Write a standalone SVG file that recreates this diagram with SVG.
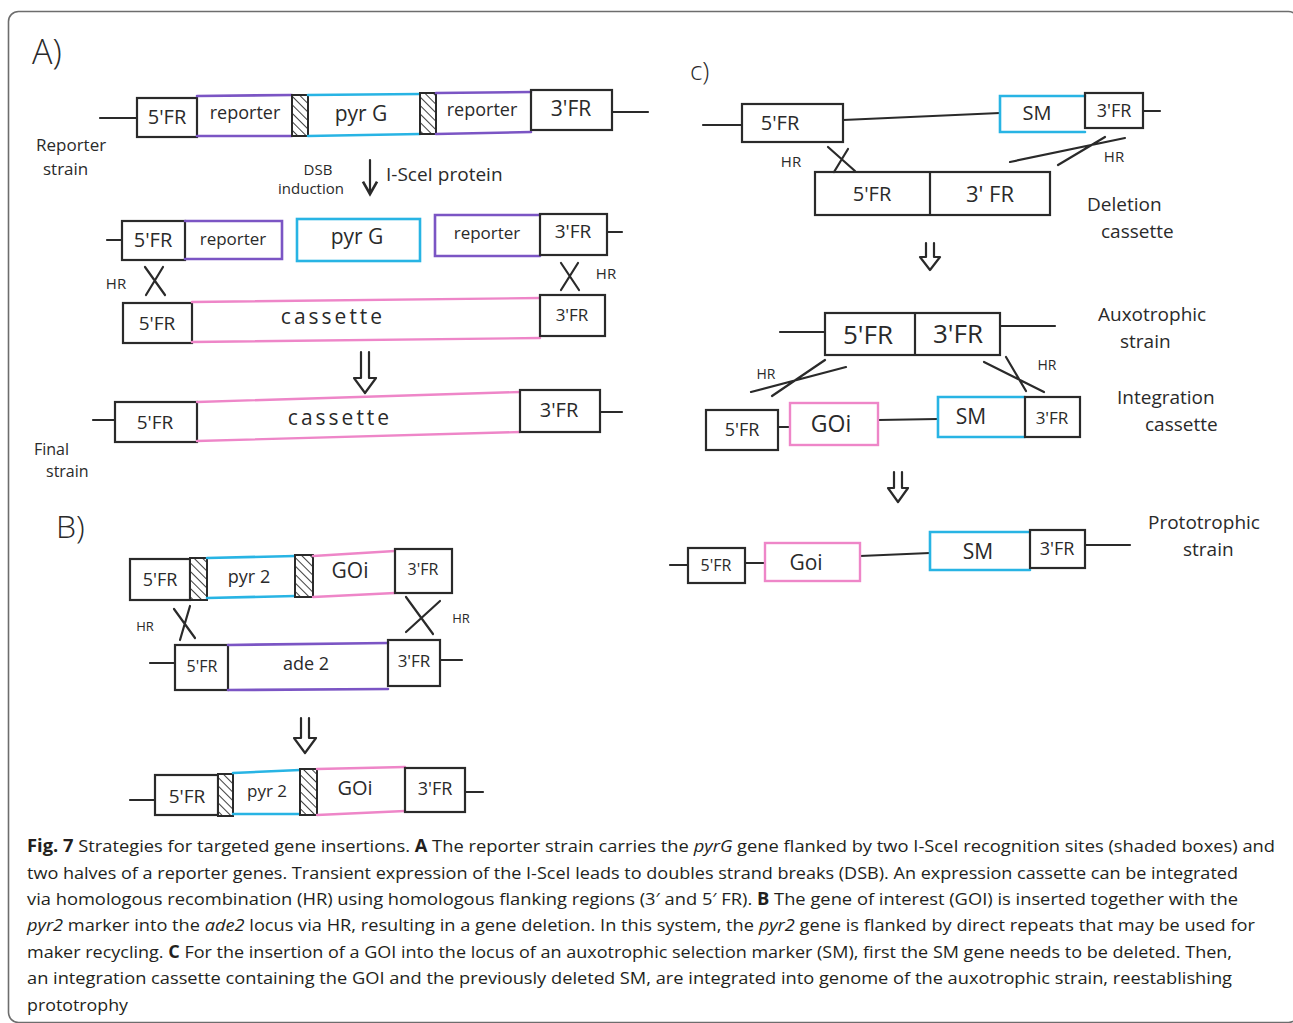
<svg xmlns="http://www.w3.org/2000/svg" width="1293" height="1023" viewBox="0 0 1293 1023">
<style>
.k{fill:none;stroke:#2a2a2a;stroke-width:2.2;stroke-linecap:round;stroke-linejoin:round}
.bx{fill:none;stroke:#2a2a2a;stroke-width:2.2}
.pu{fill:none;stroke:#7b55c4;stroke-width:2.6;stroke-linecap:round}
.cy{fill:none;stroke:#28b4e4;stroke-width:2.6;stroke-linecap:round}
.pk{fill:none;stroke:#ee86c8;stroke-width:2.4;stroke-linecap:round}
.ha{fill:url(#hatch);stroke:#2a2a2a;stroke-width:2}
.t{font-family:"Open Sans","Liberation Sans",sans-serif;fill:#2a2a2a;text-anchor:middle}
.tl{font-family:"Open Sans","Liberation Sans",sans-serif;fill:#2a2a2a}
.cap{font-family:"Open Sans","Noto Sans","Liberation Sans",sans-serif;font-size:17px;fill:#231f20}
.b{font-weight:bold}
.i{font-style:italic}
</style>
<defs>
<pattern id="hatch" patternUnits="userSpaceOnUse" width="6" height="6" patternTransform="rotate(-45)">
<rect width="6" height="6" fill="#fff"/>
<line x1="0" y1="0" x2="0" y2="6" stroke="#2a2a2a" stroke-width="1.8"/>
</pattern>
<marker id="ah" viewBox="0 0 10 10" refX="8" refY="5" markerWidth="8" markerHeight="8" orient="auto">
<path d="M1 1 L8 5 L1 9" fill="none" stroke="#2a2a2a" stroke-width="1.5"/>
</marker>
</defs>
<rect x="0" y="0" width="1293" height="1023" fill="#fff"/>
<rect x="8.5" y="11.5" width="1290" height="1011" rx="10" fill="none" stroke="#6d6d6d" stroke-width="1.6"/>

<!-- Panel A -->
<text class="tl" x="32" y="64" font-size="34" font-weight="300">A)</text>
<g id="a-row1">
<path class="k" d="M100 118 H137 M612 112 H648"/>
<rect class="bx" x="137" y="98" width="60" height="39"/>
<text class="t" x="167" y="124" font-size="20">5'FR</text>
<path class="pu" d="M197 96 L292 95 M197 136 L292 136"/>
<text class="t" x="245" y="119" font-size="18">reporter</text>
<rect class="ha" x="292" y="95" width="16" height="41"/>
<path class="cy" d="M308 95 L420 94 M308 136 L420 134"/>
<text class="t" x="361" y="121" font-size="21">pyr G</text>
<rect class="ha" x="420" y="93" width="16" height="41"/>
<path class="pu" d="M436 93 L531 92 M436 134 L531 132"/>
<text class="t" x="482" y="116" font-size="18">reporter</text>
<rect class="bx" x="531" y="90" width="81" height="40"/>
<text class="t" x="571" y="116" font-size="21">3'FR</text>
</g>
<g id="a-reporter-label">
<text class="tl" x="36" y="151" font-size="17">Reporter</text>
<text class="tl" x="43" y="175" font-size="17">strain</text>
</g>
<g id="a-dsb">
<text class="t" x="318" y="175" font-size="15">DSB</text>
<text class="t" x="311" y="194" font-size="15">induction</text>
<text class="tl" x="386" y="181" font-size="19">I-SceI protein</text>
</g>
<g id="a-row2">
<path class="k" d="M107 240 H122 M607 232 H622"/>
<rect class="bx" x="122" y="221" width="63" height="39"/>
<text class="t" x="153" y="247" font-size="20">5'FR</text>
<path class="pu" d="M185 221 H282 V259 H185"/>
<text class="t" x="233" y="245" font-size="17">reporter</text>
<rect class="cy" x="297" y="219" width="123" height="42"/>
<text class="t" x="357" y="244" font-size="21">pyr G</text>
<path class="pu" d="M540 215 H435 V256 H540"/>
<text class="t" x="487" y="239" font-size="17">reporter</text>
<rect class="bx" x="540" y="214" width="67" height="41"/>
<text class="t" x="573" y="238" font-size="19">3'FR</text>
</g>
<g id="a-hr">
<text class="t" x="116" y="289" font-size="15">HR</text>
<path class="k" d="M145 267 L165 295 M163 267 L146 295"/>
<path class="k" d="M561 263 L579 290 M578 263 L561 290"/>
<text class="t" x="606" y="279" font-size="15">HR</text>
</g>
<g id="a-row3">
<rect class="bx" x="123" y="303" width="69" height="40"/>
<text class="t" x="157" y="330" font-size="19">5'FR</text>
<path class="pk" d="M192 302 L540 298 M192 342 L540 338"/>
<text class="t" x="333" y="324" font-size="21" letter-spacing="3">cassette</text>
<rect class="bx" x="540" y="295" width="65" height="41"/>
<text class="t" x="572" y="321" font-size="17">3'FR</text>
</g>
<g id="a-row4">
<path class="k" d="M93 420 H115 M600 412 H622"/>
<rect class="bx" x="115" y="402" width="82" height="40"/>
<text class="t" x="155" y="429" font-size="19">5'FR</text>
<path class="pk" d="M197 402 L520 392 M197 441 L520 432"/>
<text class="t" x="340" y="425" font-size="21" letter-spacing="3">cassette</text>
<rect class="bx" x="520" y="390" width="80" height="42"/>
<text class="t" x="559" y="417" font-size="20">3'FR</text>
</g>
<g id="a-final-label">
<text class="tl" x="34" y="455" font-size="16">Final</text>
<text class="tl" x="46" y="477" font-size="16">strain</text>
</g>

<!-- Panel B -->
<text class="tl" x="56" y="538" font-size="32" font-weight="300">B)</text>
<g id="b-row1">
<rect class="bx" x="130" y="559" width="60" height="41"/>
<text class="t" x="160" y="586" font-size="18">5'FR</text>
<rect class="ha" x="190" y="558" width="17" height="42"/>
<path class="cy" d="M207 558 L295 556 M207 598 L295 596"/>
<text class="t" x="249" y="583" font-size="18">pyr 2</text>
<rect class="ha" x="295" y="555" width="18" height="42"/>
<path class="pk" d="M313 556 L395 551 M313 597 L395 593"/>
<text class="t" x="350" y="578" font-size="21">GOi</text>
<rect class="bx" x="395" y="549" width="57" height="44"/>
<text class="t" x="423" y="575" font-size="16">3'FR</text>
</g>
<g id="b-hr">
<text class="t" x="145" y="631" font-size="13">HR</text>
<path class="k" d="M174 609 L195 638 M190 606 L180 640"/>
<path class="k" d="M406 597 L433 634 M440 601 L406 632"/>
<text class="t" x="461" y="623" font-size="13">HR</text>
</g>
<g id="b-row2">
<path class="k" d="M150 663 H175 M440 660 H462"/>
<rect class="bx" x="175" y="645" width="53" height="45"/>
<text class="t" x="202" y="672" font-size="16">5'FR</text>
<path class="pu" d="M228 645 L388 643 M228 690 L388 689"/>
<text class="t" x="306" y="670" font-size="18">ade 2</text>
<rect class="bx" x="388" y="640" width="52" height="46"/>
<text class="t" x="414" y="667" font-size="17">3'FR</text>
</g>
<g id="b-row3">
<path class="k" d="M130 800 H155 M465 792 H483"/>
<rect class="bx" x="155" y="775" width="63" height="40"/>
<text class="t" x="187" y="803" font-size="19">5'FR</text>
<rect class="ha" x="218" y="774" width="15" height="42"/>
<path class="cy" d="M233 773 L300 770 M233 814 L300 814"/>
<text class="t" x="267" y="797" font-size="17">pyr 2</text>
<rect class="ha" x="300" y="769" width="17" height="46"/>
<path class="pk" d="M317 769 L405 767 M317 815 L405 811"/>
<text class="t" x="355" y="795" font-size="20">GOi</text>
<rect class="bx" x="405" y="768" width="60" height="44"/>
<text class="t" x="435" y="795" font-size="18">3'FR</text>
</g>

<!-- Panel C -->
<text class="tl" x="690" y="80" font-size="26" font-weight="300">c)</text>
<g id="c-row1">
<path class="k" d="M703 125 H742 M843 120 L1000 113 M1143 111 H1160"/>
<rect class="bx" x="742" y="104" width="101" height="38"/>
<text class="t" x="780" y="130" font-size="20">5'FR</text>
<path class="cy" d="M1085 96 H1000 V132 H1085"/>
<text class="t" x="1037" y="120" font-size="20">SM</text>
<rect class="bx" x="1085" y="93" width="58" height="35"/>
<text class="t" x="1114" y="117" font-size="18">3'FR</text>
</g>
<g id="c-hr1">
<text class="t" x="791" y="167" font-size="15">HR</text>
<path class="k" d="M828 147 L855 171 M848 149 L834 172"/>
<path class="k" d="M1010 162 L1125 138 M1058 165 L1105 137"/>
<text class="t" x="1114" y="162" font-size="15">HR</text>
</g>
<g id="c-deletion">
<rect class="bx" x="815" y="172" width="235" height="43"/>
<path class="k" d="M930 172 V215"/>
<text class="t" x="872" y="201" font-size="20">5'FR</text>
<text class="t" x="990" y="202" font-size="22">3' FR</text>
<text class="tl" x="1087" y="211" font-size="19">Deletion</text>
<text class="tl" x="1101" y="238" font-size="19">cassette</text>
</g>
<g id="c-aux">
<path class="k" d="M780 332 H825 M1000 326 H1055"/>
<rect class="bx" x="825" y="313" width="175" height="42"/>
<path class="k" d="M915 313 V355"/>
<text class="t" x="868" y="344" font-size="26">5'FR</text>
<text class="t" x="958" y="343" font-size="26">3'FR</text>
<text class="tl" x="1098" y="321" font-size="19">Auxotrophic</text>
<text class="tl" x="1120" y="348" font-size="19">strain</text>
</g>
<g id="c-hr2">
<text class="t" x="766" y="379" font-size="14">HR</text>
<path class="k" d="M751 392 L846 367 M772 396 L825 360"/>
<path class="k" d="M984 362 L1044 392 M1006 357 L1026 391"/>
<text class="t" x="1047" y="370" font-size="14">HR</text>
</g>
<g id="c-integration">
<rect class="bx" x="706" y="410" width="72" height="40"/>
<text class="t" x="742" y="436" font-size="18">5'FR</text>
<path class="k" d="M778 427 H790 M878 420 L938 419"/>
<rect class="pk" x="790" y="403" width="88" height="42"/>
<text class="t" x="831" y="432" font-size="23">GOi</text>
<path class="cy" d="M1025 397 H938 V437 H1025"/>
<text class="t" x="971" y="424" font-size="21">SM</text>
<rect class="bx" x="1025" y="397" width="55" height="40"/>
<text class="t" x="1052" y="424" font-size="17">3'FR</text>
<text class="tl" x="1117" y="404" font-size="19">Integration</text>
<text class="tl" x="1145" y="431" font-size="19">cassette</text>
</g>
<g id="c-proto">
<path class="k" d="M670 565 H688 M745 563 H765 M860 556 L930 553 M1085 545 H1130"/>
<rect class="bx" x="688" y="548" width="57" height="35"/>
<text class="t" x="716" y="571" font-size="16">5'FR</text>
<rect class="pk" x="765" y="543" width="95" height="38"/>
<text class="t" x="806" y="570" font-size="21">Goi</text>
<path class="cy" d="M1030 532 H930 V570 H1030"/>
<text class="t" x="978" y="559" font-size="21">SM</text>
<rect class="bx" x="1030" y="530" width="55" height="38"/>
<text class="t" x="1057" y="555" font-size="18">3'FR</text>
<text class="tl" x="1148" y="529" font-size="19">Prototrophic</text>
<text class="tl" x="1183" y="556" font-size="19">strain</text>
</g>

<!-- Connectors (arrows) -->
<g id="connectors">
<path class="k" d="M370 160 V194" marker-end="url(#ah)"/>
<path class="k" d="M361 352 V378 H354 L365 393 L376 378 H369 V352"/>
<path class="k" d="M301 718 V738 H294 L305 753 L316 738 H309 V718"/>
<path class="k" d="M926 243 V257 H920 L930 270 L940 257 H934 V243"/>
<path class="k" d="M894 472 V488 H888 L898 502 L908 488 H902 V472"/>
</g>

<!-- Caption -->
<g id="caption">
<text class="cap" x="27" y="852" textLength="1248" lengthAdjust="spacingAndGlyphs"><tspan class="b">Fig. 7</tspan>  Strategies for targeted gene insertions. <tspan class="b">A</tspan> The reporter strain carries the <tspan class="i">pyrG</tspan> gene flanked by two I-SceI recognition sites (shaded boxes) and</text>
<text class="cap" x="27" y="879" textLength="1211" lengthAdjust="spacingAndGlyphs">two halves of a reporter genes. Transient expression of the I-SceI leads to doubles strand breaks (DSB). An expression cassette can be integrated</text>
<text class="cap" x="27" y="905" textLength="1211" lengthAdjust="spacingAndGlyphs">via homologous recombination (HR) using homologous flanking regions (3′ and 5′ FR). <tspan class="b">B</tspan> The gene of interest (GOI) is inserted together with the</text>
<text class="cap" x="27" y="931" textLength="1228" lengthAdjust="spacingAndGlyphs"><tspan class="i">pyr2</tspan> marker into the <tspan class="i">ade2</tspan> locus via HR, resulting in a gene deletion. In this system, the <tspan class="i">pyr2</tspan> gene is flanked by direct repeats that may be used for</text>
<text class="cap" x="27" y="958" textLength="1205" lengthAdjust="spacingAndGlyphs">maker recycling. <tspan class="b">C</tspan> For the insertion of a GOI into the locus of an auxotrophic selection marker (SM), first the SM gene needs to be deleted. Then,</text>
<text class="cap" x="27" y="984" textLength="1205" lengthAdjust="spacingAndGlyphs">an integration cassette containing the GOI and the previously deleted SM, are integrated into genome of the auxotrophic strain, reestablishing</text>
<text class="cap" x="27" y="1011" textLength="101" lengthAdjust="spacingAndGlyphs">prototrophy</text>
</g>
</svg>
